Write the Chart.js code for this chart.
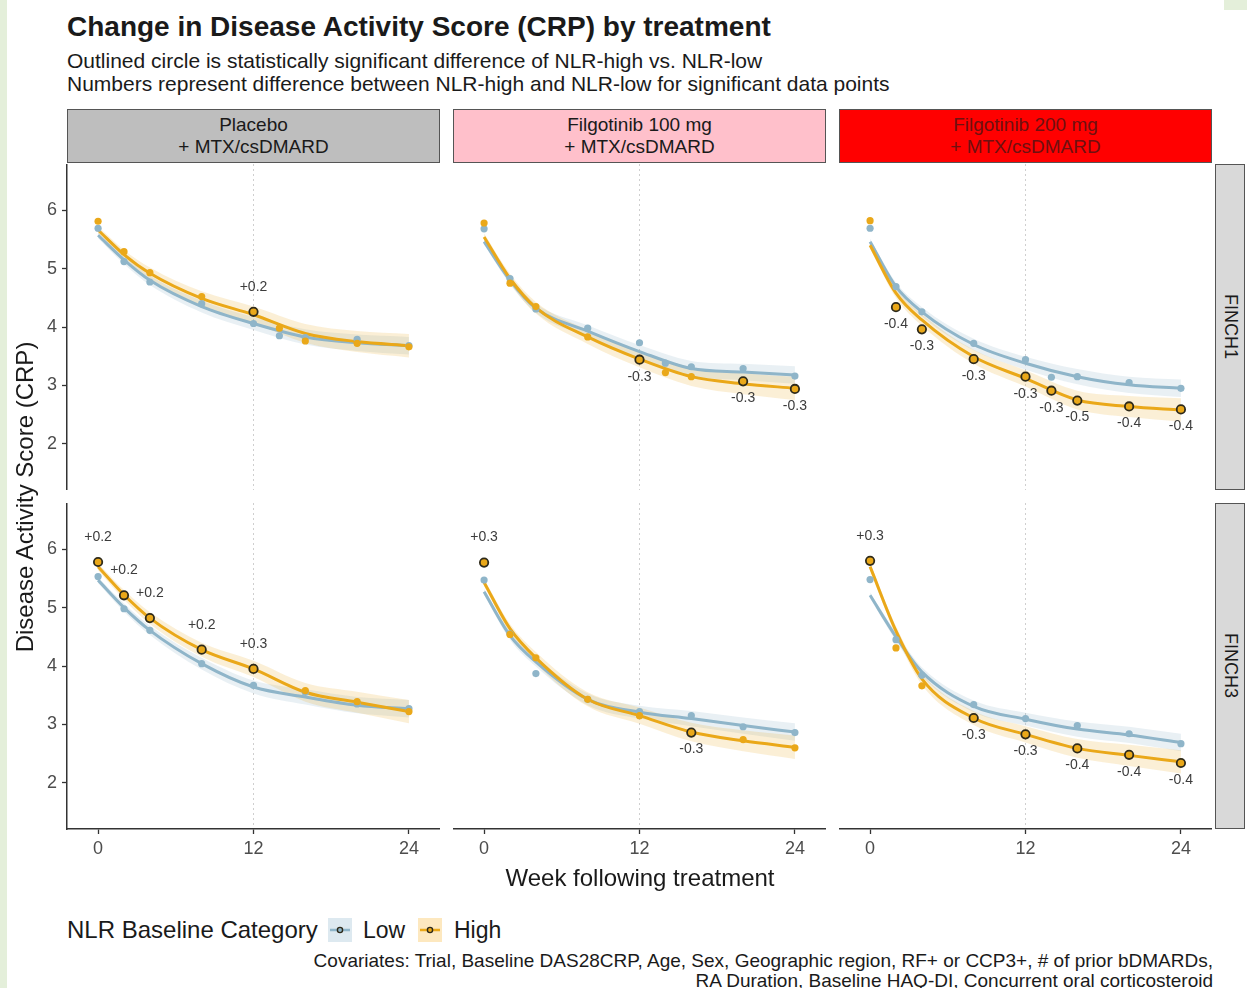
<!DOCTYPE html>
<html>
<head>
<meta charset="utf-8">
<title>Change in Disease Activity Score (CRP) by treatment</title>
<script src="https://cdn.jsdelivr.net/npm/chart.js@4.4.0/dist/chart.umd.min.js"></script>
<style>
    body {
        margin: 0;
        width: 1247px;
        height: 988px;
        background: #fff;
        position: relative;
        overflow: hidden;
        font-family: "Liberation Sans", Arial, sans-serif;
        color: #1a1a1a;
    }
    .abs { position: absolute; white-space: nowrap; }
    .strip {
        position: absolute;
        box-sizing: border-box;
        border: 1.5px solid #555;
        text-align: center;
        font-size: 19px;
        line-height: 22px;
        padding-top: 4px;
        color: #1a1a1a;
    }
    .side {
        position: absolute;
        box-sizing: border-box;
        border: 1.5px solid #555;
        background: #d9d9d9;
        writing-mode: vertical-rl;
        text-align: center;
        font-size: 18px;
        line-height: 27px;
    }
    .key {
        position: absolute;
        width: 24px;
        height: 24px;
    }
</style>
</head>
<body>
<div class="abs" style="left:0;top:0;width:7px;height:988px;background:#e4efda;"></div>
<div class="abs" style="left:1224px;top:0;width:23px;height:10px;background:#e4efda;"></div>

<div class="abs" style="left:67px;top:11px;font-size:28px;font-weight:bold;line-height:32px;">Change in Disease Activity Score (CRP) by treatment</div>
<div class="abs" style="left:67px;top:49px;font-size:21px;line-height:23px;">Outlined circle is statistically significant difference of NLR-high vs. NLR-low</div>
<div class="abs" style="left:67px;top:72px;font-size:21px;line-height:23px;">Numbers represent difference between NLR-high and NLR-low for significant data points</div>

<div id="strips"></div>
<div id="panels"></div>

<div class="abs" style="left:440px;top:863px;width:400px;text-align:center;font-size:24px;line-height:30px;">Week following treatment</div>
<div class="abs" style="left:-135px;top:483px;width:320px;text-align:center;font-size:24px;line-height:28px;transform:rotate(-90deg);">Disease Activity Score (CRP)</div>

<div class="abs" style="left:67px;top:915px;font-size:24px;line-height:30px;">NLR Baseline Category</div>
<canvas id="keyLow" class="key" width="24" height="24" style="left:328px;top:918px;"></canvas>
<div class="abs" style="left:363px;top:915px;font-size:23px;line-height:30px;">Low</div>
<canvas id="keyHigh" class="key" width="24" height="24" style="left:418px;top:918px;"></canvas>
<div class="abs" style="left:454px;top:915px;font-size:23px;line-height:30px;">High</div>

<div class="abs" style="right:34px;top:951px;font-size:19px;line-height:20px;text-align:right;">Covariates: Trial, Baseline DAS28CRP, Age, Sex, Geographic region, RF+ or CCP3+, # of prior bDMARDs,<br>RA Duration, Baseline HAQ-DI, Concurrent oral corticosteroid</div>

<script>
    // --- data ---
    var treatments = ["Placebo\n+ MTX/csDMARD", "Filgotinib 100 mg\n+ MTX/csDMARD", "Filgotinib 200 mg\n+ MTX/csDMARD"];
    var trials = ["FINCH1", "FINCH3"];
    var weeksF1 = [0, 2, 4, 8, 12, 14, 16, 20, 24];
    var weeksF3 = [0, 2, 4, 8, 12, 16, 20, 24];
    var fitWeeks = [0, 2, 4, 8, 12, 16, 20, 24];
    var xTicks = [0, 12, 24];
    var yTicks = [2, 3, 4, 5, 6];

    // FINCH1, observed means (Low / High) and significant differences
    var f1PlaceboLow = [5.69, 5.12, 4.77, 4.40, 4.06, 3.85, 3.82, 3.79, 3.68];
    var f1PlaceboHigh = [5.81, 5.29, 4.93, 4.52, 4.26, 3.98, 3.76, 3.72, 3.66];
    var f1PlaceboDiff = [null, null, null, null, "+0.2", null, null, null, null];
    var f1Fil100Low = [5.68, 4.83, 4.31, 3.98, 3.73, 3.38, 3.32, 3.29, 3.16];
    var f1Fil100High = [5.78, 4.75, 4.35, 3.83, 3.44, 3.22, 3.15, 3.07, 2.94];
    var f1Fil100Diff = [null, null, null, null, "-0.3", null, null, "-0.3", "-0.3"];
    var f1Fil200Low = [5.69, 4.69, 4.26, 3.72, 3.44, 3.14, 3.15, 3.05, 2.95];
    var f1Fil200High = [5.82, 4.34, 3.96, 3.45, 3.15, 2.91, 2.74, 2.64, 2.59];
    var f1Fil200Diff = [null, "-0.4", "-0.3", "-0.3", "-0.3", "-0.3", "-0.5", "-0.4", "-0.4"];

    // FINCH3
    var f3PlaceboLow = [5.53, 4.98, 4.61, 4.04, 3.67, 3.55, 3.35, 3.27];
    var f3PlaceboHigh = [5.78, 5.21, 4.82, 4.28, 3.95, 3.58, 3.39, 3.22];
    var f3PlaceboDiff = ["+0.2", "+0.2", "+0.2", "+0.2", "+0.3", null, null, null];
    var f3Fil100Low = [5.47, 4.55, 3.87, 3.43, 3.22, 3.15, 2.96, 2.86];
    var f3Fil100High = [5.77, 4.54, 4.14, 3.43, 3.15, 2.86, 2.74, 2.60];
    var f3Fil100Diff = ["+0.3", null, null, null, null, "-0.3", null, null];
    var f3Fil200Low = [5.48, 4.45, 3.84, 3.34, 3.10, 2.98, 2.84, 2.67];
    var f3Fil200High = [5.80, 4.31, 3.66, 3.11, 2.83, 2.59, 2.48, 2.34];
    var f3Fil200Diff = ["+0.3", null, null, "-0.3", "-0.3", "-0.4", "-0.4", "-0.4"];

    // fitted curves at fitWeeks
    var fitF1PlaceboLow = [5.57, 5.15, 4.80, 4.35, 4.06, 3.83, 3.73, 3.68];
    var fitF1PlaceboHigh = [5.66, 5.24, 4.92, 4.49, 4.21, 3.89, 3.75, 3.68];
    var fitF1Fil100Low = [5.46, 4.80, 4.32, 3.93, 3.58, 3.29, 3.23, 3.18];
    var fitF1Fil100High = [5.54, 4.83, 4.33, 3.83, 3.45, 3.15, 3.03, 2.95];
    var fitF1Fil200Low = [5.46, 4.69, 4.26, 3.70, 3.38, 3.15, 3.01, 2.95];
    var fitF1Fil200High = [5.40, 4.58, 4.12, 3.49, 3.12, 2.75, 2.64, 2.58];
    var fitF3PlaceboLow = [5.47, 5.00, 4.61, 4.04, 3.64, 3.47, 3.33, 3.27];
    var fitF3PlaceboHigh = [5.70, 5.22, 4.82, 4.28, 3.95, 3.55, 3.38, 3.22];
    var fitF3Fil100Low = [5.27, 4.52, 4.07, 3.43, 3.21, 3.10, 2.98, 2.87];
    var fitF3Fil100High = [5.43, 4.64, 4.14, 3.43, 3.15, 2.87, 2.72, 2.61];
    var fitF3Fil200Low = [5.21, 4.50, 3.90, 3.31, 3.09, 2.92, 2.82, 2.69];
    var fitF3Fil200High = [5.70, 4.60, 3.78, 3.11, 2.83, 2.59, 2.47, 2.36];

    // half-width of the confidence ribbons at fitWeeks
    var bandLow = [0.05, 0.07, 0.08, 0.10, 0.11, 0.13, 0.14, 0.15];
    var bandHigh = [0.06, 0.08, 0.10, 0.12, 0.14, 0.16, 0.18, 0.20];

    var BLUE = "#8fb5c9";
    var ORANGE = "#eaa819";
    var FONT = '"Liberation Sans", Arial, sans-serif';

    var panels = [
        { row: 0, col: 0, weeks: weeksF1, low: f1PlaceboLow, high: f1PlaceboHigh, diff: f1PlaceboDiff, fitLow: fitF1PlaceboLow, fitHigh: fitF1PlaceboHigh },
        { row: 0, col: 1, weeks: weeksF1, low: f1Fil100Low, high: f1Fil100High, diff: f1Fil100Diff, fitLow: fitF1Fil100Low, fitHigh: fitF1Fil100High },
        { row: 0, col: 2, weeks: weeksF1, low: f1Fil200Low, high: f1Fil200High, diff: f1Fil200Diff, fitLow: fitF1Fil200Low, fitHigh: fitF1Fil200High },
        { row: 1, col: 0, weeks: weeksF3, low: f3PlaceboLow, high: f3PlaceboHigh, diff: f3PlaceboDiff, fitLow: fitF3PlaceboLow, fitHigh: fitF3PlaceboHigh },
        { row: 1, col: 1, weeks: weeksF3, low: f3Fil100Low, high: f3Fil100High, diff: f3Fil100Diff, fitLow: fitF3Fil100Low, fitHigh: fitF3Fil100High },
        { row: 1, col: 2, weeks: weeksF3, low: f3Fil200Low, high: f3Fil200High, diff: f3Fil200Diff, fitLow: fitF3Fil200Low, fitHigh: fitF3Fil200High }
    ];

    // --- layout ---
    var colLeft = [67, 453, 839];
    var rowTop = [164, 503];
    var panelW = 373, panelH = 326;
    var yAxisW = 50, xAxisH = 45;
    var stripColors = ["#bebebe", "#ffc0cb", "#ff0000"];
    var stripText = ["#1a1a1a", "#1a1a1a", "#6e1010"];

    var strips = document.getElementById("strips");
    treatments.forEach(function (t, i) {
        var d = document.createElement("div");
        d.className = "strip";
        d.style.cssText = "left:" + colLeft[i] + "px;top:109px;width:" + panelW + "px;height:54px;background:" +
            stripColors[i] + ";color:" + stripText[i] + ";";
        d.innerHTML = t.replace("\n", "<br>");
        strips.appendChild(d);
    });
    trials.forEach(function (t, i) {
        var d = document.createElement("div");
        d.className = "side";
        d.style.cssText = "left:1215px;top:" + rowTop[i] + "px;width:30px;height:" + panelH + "px;";
        d.textContent = t;
        strips.appendChild(d);
    });

    function xy(xs, ys) {
        return xs.map(function (x, i) { return { x: x, y: ys[i] }; });
    }
    function shift(ys, w, sign) {
        return ys.map(function (y, i) { return y + sign * w[i]; });
    }
    // keep the plot area exactly on the panel box
    function noPad(s) {
        s.paddingLeft = 0;
        s.paddingRight = 0;
        s.paddingTop = 0;
        s.paddingBottom = 0;
    }

    function makePanel(p) {
        var left = colLeft[p.col] - (p.col === 0 ? yAxisW : 0);
        var top = rowTop[p.row];
        var w = panelW + (p.col === 0 ? yAxisW : 0);
        var h = panelH + (p.row === 1 ? xAxisH : 0);
        var bottom = p.row === 1;
        var leftAxis = p.col === 0;

        var cv = document.createElement("canvas");
        cv.width = w;
        cv.height = h;
        cv.style.cssText = "position:absolute;left:" + left + "px;top:" + top + "px;width:" + w + "px;height:" + h + "px;";
        document.getElementById("panels").appendChild(cv);

        // difference labels next to the outlined points
        var diffLabels = {
            id: "diffLabels",
            afterDatasetsDraw: function (chart) {
                var ctx = chart.ctx, xs = chart.scales.x, ys = chart.scales.y;
                ctx.save();
                ctx.font = "14px " + FONT;
                ctx.fillStyle = "#3c3c3c";
                ctx.textAlign = "center";
                ctx.textBaseline = "middle";
                p.diff.forEach(function (d, i) {
                    if (!d) return;
                    var px = xs.getPixelForValue(p.weeks[i]);
                    var py = ys.getPixelForValue(p.high[i]);
                    ctx.fillText(d, px, d.charAt(0) === "+" ? py - 25 : py + 17);
                });
                ctx.restore();
            }
        };

        var sig = p.diff.map(function (d) { return !!d; });

        new Chart(cv.getContext("2d"), {
            type: "scatter",
            data: {
                datasets: [
                    { data: xy(fitWeeks, shift(p.fitLow, bandLow, 1)), showLine: true, borderWidth: 0, pointRadius: 0, fill: false, cubicInterpolationMode: "monotone", order: 5 },
                    { data: xy(fitWeeks, shift(p.fitLow, bandLow, -1)), showLine: true, borderWidth: 0, pointRadius: 0, fill: "-1", backgroundColor: "rgba(143,181,201,0.2)", cubicInterpolationMode: "monotone", order: 5 },
                    { data: xy(fitWeeks, shift(p.fitHigh, bandHigh, 1)), showLine: true, borderWidth: 0, pointRadius: 0, fill: false, cubicInterpolationMode: "monotone", order: 4 },
                    { data: xy(fitWeeks, shift(p.fitHigh, bandHigh, -1)), showLine: true, borderWidth: 0, pointRadius: 0, fill: "-1", backgroundColor: "rgba(234,168,25,0.18)", cubicInterpolationMode: "monotone", order: 4 },
                    { data: xy(fitWeeks, p.fitLow), showLine: true, borderColor: BLUE, borderWidth: 3, pointRadius: 0, cubicInterpolationMode: "monotone", order: 3 },
                    { data: xy(fitWeeks, p.fitHigh), showLine: true, borderColor: ORANGE, borderWidth: 3, pointRadius: 0, cubicInterpolationMode: "monotone", order: 2 },
                    { data: xy(p.weeks, p.low), backgroundColor: BLUE, borderWidth: 0, pointRadius: 3.6, order: 1 },
                    {
                        data: xy(p.weeks, p.high),
                        backgroundColor: ORANGE,
                        pointRadius: sig.map(function (s) { return s ? 4.2 : 3.6; }),
                        borderColor: sig.map(function (s) { return s ? "#2e2a1a" : ORANGE; }),
                        borderWidth: sig.map(function (s) { return s ? 1.8 : 0; }),
                        order: 0
                    }
                ]
            },
            options: {
                responsive: false,
                animation: false,
                layout: { padding: 0, autoPadding: false },
                plugins: { legend: { display: false }, tooltip: { enabled: false } },
                scales: {
                    x: {
                        type: "linear",
                        min: -2.4,
                        max: 26.4,
                        afterBuildTicks: function (s) { s.ticks = xTicks.map(function (v) { return { value: v }; }); },
                        afterFit: function (s) { s.height = bottom ? xAxisH : 0; noPad(s); },
                        ticks: { display: bottom, color: "#4d4d4d", font: { size: 18, family: FONT }, padding: 4, maxRotation: 0, autoSkip: false },
                        grid: {
                            color: function (c) { return c.tick && c.tick.value === 12 ? "#cfcfcf" : "rgba(0,0,0,0)"; },
                            lineWidth: 1,
                            drawTicks: bottom,
                            tickLength: 5,
                            tickColor: "#333",
                            tickWidth: 1.3
                        },
                        border: { display: bottom, color: "#333", width: 1.5, dash: [2, 3] }
                    },
                    y: {
                        min: 1.21,
                        max: 6.79,
                        display: leftAxis,
                        afterBuildTicks: function (s) { s.ticks = yTicks.map(function (v) { return { value: v }; }); },
                        afterFit: function (s) { s.width = leftAxis ? yAxisW : 0; noPad(s); },
                        ticks: { color: "#4d4d4d", font: { size: 18, family: FONT }, padding: 5 },
                        grid: { drawOnChartArea: false, drawTicks: true, tickLength: 5, tickColor: "#333", tickWidth: 1.3 },
                        border: { display: true, color: "#333", width: 1.5 }
                    }
                }
            },
            plugins: [diffLabels]
        });
    }

    panels.forEach(makePanel);

    // legend keys
    function drawKey(id, bg, col) {
        var c = document.getElementById(id).getContext("2d");
        c.fillStyle = bg;
        c.fillRect(0, 0, 24, 24);
        c.strokeStyle = col;
        c.lineWidth = 2.5;
        c.beginPath();
        c.moveTo(2, 12);
        c.lineTo(22, 12);
        c.stroke();
        c.fillStyle = col;
        c.strokeStyle = "#2e2a1a";
        c.lineWidth = 1.4;
        c.beginPath();
        c.arc(12, 12, 2.6, 0, Math.PI * 2);
        c.fill();
        c.stroke();
    }
    drawKey("keyLow", "#dde9f0", BLUE);
    drawKey("keyHigh", "#fde8bf", ORANGE);
</script>
</body>
</html>
